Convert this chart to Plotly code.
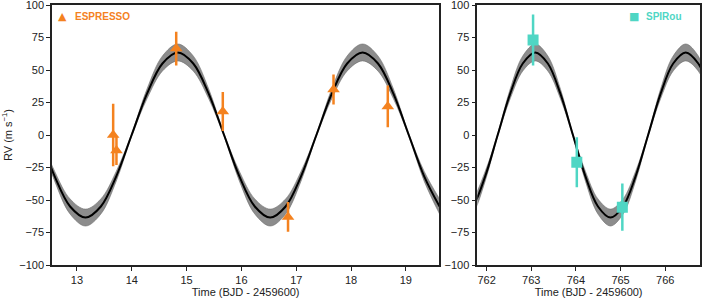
import plotly.graph_objects as go

# ---- model curve ----
t_left = [12.312, 12.593, 12.874, 13.155, 13.435, 13.716, 13.997, 14.278, 14.559, 14.840,
          15.121, 15.402, 15.683, 15.963, 16.244, 16.525, 16.806, 17.087, 17.368, 17.649,
          17.929, 18.210, 18.491, 18.772, 19.053, 19.334, 19.615]
model_left = [0, -31.8, -55.0, -63.5, -55.0, -31.8, 0, 31.8, 55.0, 63.5, 55.0, 31.8, 0, -31.8,
              -55.0, -63.5, -55.0, -31.8, 0, 31.8, 55.0, 63.5, 55.0, 31.8, 0, -31.8, -55.0]
upper_left = [1, -28.0, -49.2, -57.0, -49.2, -28.0, 1, 35.5, 60.8, 70.0, 60.8, 35.5, 1, -28.0,
              -49.2, -57.0, -49.2, -28.0, 1, 35.5, 60.8, 70.0, 60.8, 35.5, 1, -28.0, -49.2]
lower_left = [-1, -35.5, -60.8, -70.0, -60.8, -35.5, -1, 28.0, 49.2, 57.0, 49.2, 28.0, -1, -35.5,
              -60.8, -70.0, -60.8, -35.5, -1, 28.0, 49.2, 57.0, 49.2, 28.0, -1, -35.5, -60.8]

t_right = [761.405, 761.686, 761.967, 762.247, 762.528, 762.809, 763.090, 763.371, 763.652,
           763.933, 764.213, 764.494, 764.775, 765.056, 765.337, 765.618, 765.898, 766.179,
           766.460, 766.741, 767.022]
model_right = [-63.5, -55.0, -31.8, 0, 31.8, 55.0, 63.5, 55.0, 31.8, 0, -31.8, -55.0, -63.5,
               -55.0, -31.8, 0, 31.8, 55.0, 63.5, 55.0, 31.8]
upper_right = [-57.0, -49.2, -28.0, 1, 35.5, 60.8, 70.0, 60.8, 35.5, 1, -28.0, -49.2, -57.0,
               -49.2, -28.0, 1, 35.5, 60.8, 70.0, 60.8, 35.5]
lower_right = [-70.0, -60.8, -35.5, -1, 28.0, 49.2, 57.0, 49.2, 28.0, -1, -35.5, -60.8, -70.0,
               -60.8, -35.5, -1, 28.0, 49.2, 57.0, 49.2, 28.0]

# ---- observations ----
espresso_t = [13.66, 13.72, 14.81, 15.66, 16.85, 17.68, 18.67]
espresso_rv = [0, -12, 66.5, 18, -63, 35, 22]
espresso_err = [24, 11, 13, 15, 11.5, 11.5, 16]

spirou_t = [763.04, 764.02, 765.04]
spirou_rv = [73, -21, -55.5]
spirou_err = [19.6, 19.2, 18.2]

left_ticks = [13, 14, 15, 16, 17, 18, 19]
right_ticks = [762, 763, 764, 765, 766]
y_ticks = [-100, -75, -50, -25, 0, 25, 50, 75, 100]

ORANGE = "#F4821F"
TEAL = "#4FD6C4"
BAND = "#8c8c8c"
FONT = "Liberation Sans"

fig = go.Figure()


def add_model(t, lo, hi, mid, xa, ya):
    fig.add_trace(go.Scatter(x=t, y=lo, mode="lines", line=dict(width=0.6, color="#6e6e6e", shape="spline"),
                             xaxis=xa, yaxis=ya, showlegend=False, hoverinfo="skip"))
    fig.add_trace(go.Scatter(x=t, y=hi, mode="lines", line=dict(width=0.6, color="#6e6e6e", shape="spline"),
                             fill="tonexty", fillcolor=BAND,
                             xaxis=xa, yaxis=ya, showlegend=False, hoverinfo="skip"))
    fig.add_trace(go.Scatter(x=t, y=mid, mode="lines", line=dict(width=2, color="black", shape="spline"),
                             xaxis=xa, yaxis=ya, showlegend=False, hoverinfo="skip"))


add_model(t_left, lower_left, upper_left, model_left, "x", "y")
add_model(t_right, lower_right, upper_right, model_right, "x2", "y2")

fig.add_trace(go.Scatter(
    x=espresso_t, y=espresso_rv, mode="markers", name="ESPRESSO", showlegend=False,
    marker=dict(symbol="triangle-up", size=11, color=ORANGE),
    error_y=dict(type="data", array=espresso_err, color=ORANGE, thickness=2.5, width=0),
    xaxis="x", yaxis="y"))
fig.add_trace(go.Scatter(
    x=spirou_t, y=spirou_rv, mode="markers", name="SPIRou", showlegend=False,
    marker=dict(symbol="square", size=11, color=TEAL),
    error_y=dict(type="data", array=spirou_err, color=TEAL, thickness=2.5, width=0),
    xaxis="x2", yaxis="y2"))

axis_common = dict(showgrid=False, zeroline=False, showline=True, linecolor="#222", linewidth=1.5,
                   mirror=True, ticks="outside", ticklen=4, tickwidth=1.2, tickcolor="#222",
                   ticklabeloverflow="allow", automargin=False,
                   tickfont=dict(family=FONT, size=11, color="#222"))

# legend-like labels (symbol + name), placed in axis-domain coordinates
legend_items = [
    ("x domain", "y domain", 0.026, "▲", 0.055, "ESPRESSO", ORANGE),
    ("x2 domain", "y2 domain", 0.704, "■", 0.748, "SPIRou", TEAL),
]
annotations = []
for xr, yr, xs, sym, xt, name, col in legend_items:
    annotations.append(dict(xref=xr, yref=yr, x=xs, y=0.955, text=sym, showarrow=False,
                            xanchor="center", yanchor="middle",
                            font=dict(family="DejaVu Sans", size=11, color=col)))
    annotations.append(dict(xref=xr, yref=yr, x=xt, y=0.955, text="<b>" + name + "</b>", showarrow=False,
                            xanchor="left", yanchor="middle",
                            font=dict(family=FONT, size=10, color=col)))

fig.update_layout(
    width=704, height=302,
    margin=dict(l=52, r=4, t=5, b=37),
    paper_bgcolor="white", plot_bgcolor="white",
    showlegend=False,
    font=dict(family=FONT, size=11, color="#222"),
    xaxis=dict(domain=[0, 0.5977], range=[12.544, 19.61], tickvals=left_ticks,
               title=dict(text="Time (BJD - 2459600)", font=dict(size=11), standoff=2), **axis_common),
    yaxis=dict(domain=[0, 1], range=[-100, 100], tickvals=y_ticks,
               title=dict(text="RV (m s<sup>−1</sup>)", font=dict(size=11), standoff=12), **axis_common),
    xaxis2=dict(domain=[0.6563, 1.0], range=[761.79, 766.78], tickvals=right_ticks, anchor="y2",
                title=dict(text="Time (BJD - 2459600)", font=dict(size=11), standoff=2), **axis_common),
    yaxis2=dict(domain=[0, 1], range=[-100, 100], tickvals=y_ticks, anchor="x2", **axis_common),
    annotations=annotations,
)

fig.write_html("out.html", config={"displayModeBar": False},
               post_script="document.body.style.margin='0px';")
